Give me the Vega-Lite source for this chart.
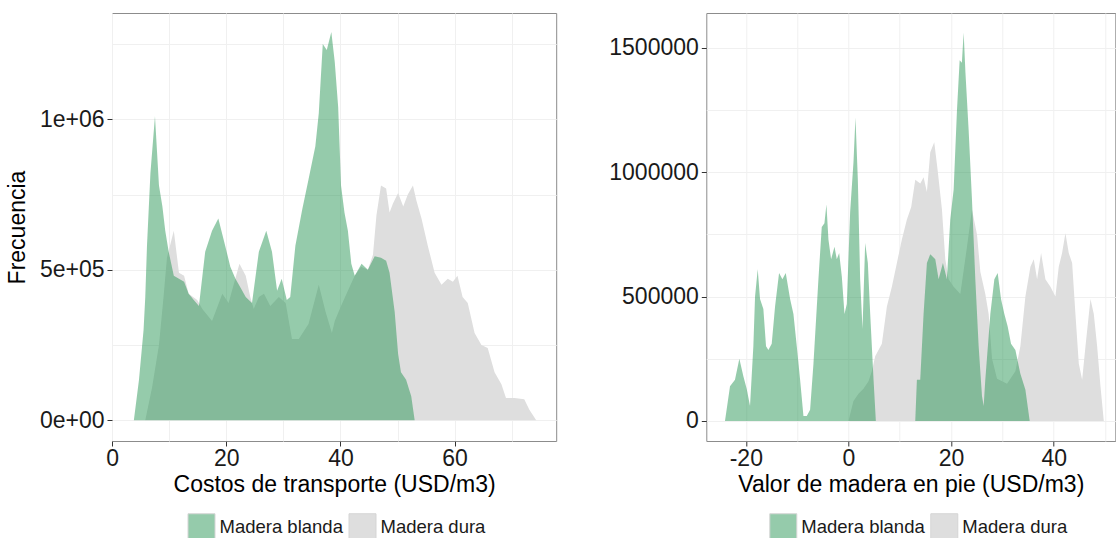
{
  "$schema": "https://vega.github.io/schema/vega-lite/v6.json",
  "padding": {"left": 5, "top": 12, "right": 0, "bottom": 0},
  "bounds": "flush",
  "spacing": 149.3,
  "background": "white",
  "config": {
    "font": "Liberation Sans",
    "view": {"stroke": "#8c8c8c", "strokeWidth": 1},
    "axis": {"labelFontSize": 23, "titleFontSize": 23, "labelColor": "#1a1a1a", "titleColor": "#000000", "titleFontWeight": "normal", "tickColor": "#333333", "tickSize": 5, "domain": false, "gridColor": "#F0F0F0", "labelPadding": 3, "labelFlush": false, "labelOverlap": false},
    "axisX": {"labelPadding": 1},
    "legend": {"orient": "none", "direction": "horizontal", "title": null, "symbolType": "square", "symbolSize": 729, "labelFontSize": 18.5, "labelColor": "#1a1a1a", "symbolStrokeColor": "#D5D5D5", "symbolStrokeWidth": 1, "columnPadding": 3, "labelOffset": 4}
  },
  "data": {"values": [
    {"p":"T","t":"Madera blanda","x":3.8,"y":0},{"p":"T","t":"Madera blanda","x":4.7,"y":135000},{"p":"T","t":"Madera blanda","x":5.5,"y":300000},{"p":"T","t":"Madera blanda","x":5.8,"y":410000},{"p":"T","t":"Madera blanda","x":6.1,"y":580000},{"p":"T","t":"Madera blanda","x":6.7,"y":820000},{"p":"T","t":"Madera blanda","x":7.5,"y":1010000},{"p":"T","t":"Madera blanda","x":8.2,"y":780000},{"p":"T","t":"Madera blanda","x":8.8,"y":710000},{"p":"T","t":"Madera blanda","x":9.3,"y":630000},{"p":"T","t":"Madera blanda","x":9.9,"y":560000},{"p":"T","t":"Madera blanda","x":10.8,"y":480000},{"p":"T","t":"Madera blanda","x":11.7,"y":470000},{"p":"T","t":"Madera blanda","x":12.6,"y":460000},{"p":"T","t":"Madera blanda","x":13.4,"y":420000},{"p":"T","t":"Madera blanda","x":14.3,"y":400000},{"p":"T","t":"Madera blanda","x":15.2,"y":380000},{"p":"T","t":"Madera blanda","x":16.3,"y":560000},{"p":"T","t":"Madera blanda","x":17.5,"y":630000},{"p":"T","t":"Madera blanda","x":18.6,"y":670000},{"p":"T","t":"Madera blanda","x":19.8,"y":580000},{"p":"T","t":"Madera blanda","x":20.7,"y":510000},{"p":"T","t":"Madera blanda","x":21.6,"y":470000},{"p":"T","t":"Madera blanda","x":22.5,"y":440000},{"p":"T","t":"Madera blanda","x":23.4,"y":410000},{"p":"T","t":"Madera blanda","x":24.5,"y":390000},{"p":"T","t":"Madera blanda","x":25.7,"y":560000},{"p":"T","t":"Madera blanda","x":27.0,"y":630000},{"p":"T","t":"Madera blanda","x":28.0,"y":560000},{"p":"T","t":"Madera blanda","x":28.9,"y":430000},{"p":"T","t":"Madera blanda","x":29.7,"y":470000},{"p":"T","t":"Madera blanda","x":30.6,"y":400000},{"p":"T","t":"Madera blanda","x":31.2,"y":410000},{"p":"T","t":"Madera blanda","x":32.1,"y":580000},{"p":"T","t":"Madera blanda","x":33.3,"y":700000},{"p":"T","t":"Madera blanda","x":34.4,"y":800000},{"p":"T","t":"Madera blanda","x":35.6,"y":910000},{"p":"T","t":"Madera blanda","x":36.2,"y":1020000},{"p":"T","t":"Madera blanda","x":36.9,"y":1250000},{"p":"T","t":"Madera blanda","x":37.6,"y":1230000},{"p":"T","t":"Madera blanda","x":38.4,"y":1290000},{"p":"T","t":"Madera blanda","x":39.0,"y":1190000},{"p":"T","t":"Madera blanda","x":39.6,"y":1040000},{"p":"T","t":"Madera blanda","x":40.1,"y":780000},{"p":"T","t":"Madera blanda","x":40.7,"y":690000},{"p":"T","t":"Madera blanda","x":41.3,"y":630000},{"p":"T","t":"Madera blanda","x":41.9,"y":520000},{"p":"T","t":"Madera blanda","x":42.5,"y":480000},{"p":"T","t":"Madera blanda","x":43.1,"y":500000},{"p":"T","t":"Madera blanda","x":43.7,"y":520000},{"p":"T","t":"Madera blanda","x":44.8,"y":500000},{"p":"T","t":"Madera blanda","x":46.0,"y":545000},{"p":"T","t":"Madera blanda","x":47.1,"y":540000},{"p":"T","t":"Madera blanda","x":48.0,"y":530000},{"p":"T","t":"Madera blanda","x":48.6,"y":490000},{"p":"T","t":"Madera blanda","x":49.5,"y":360000},{"p":"T","t":"Madera blanda","x":50.1,"y":220000},{"p":"T","t":"Madera blanda","x":50.6,"y":160000},{"p":"T","t":"Madera blanda","x":51.5,"y":135000},{"p":"T","t":"Madera blanda","x":52.4,"y":80000},{"p":"T","t":"Madera blanda","x":53.0,"y":0},
    {"p":"T","t":"Madera dura","x":5.8,"y":0},{"p":"T","t":"Madera dura","x":7.0,"y":110000},{"p":"T","t":"Madera dura","x":8.2,"y":250000},{"p":"T","t":"Madera dura","x":9.0,"y":410000},{"p":"T","t":"Madera dura","x":9.6,"y":540000},{"p":"T","t":"Madera dura","x":10.8,"y":630000},{"p":"T","t":"Madera dura","x":11.7,"y":490000},{"p":"T","t":"Madera dura","x":12.6,"y":480000},{"p":"T","t":"Madera dura","x":13.4,"y":420000},{"p":"T","t":"Madera dura","x":14.9,"y":400000},{"p":"T","t":"Madera dura","x":15.8,"y":370000},{"p":"T","t":"Madera dura","x":17.5,"y":330000},{"p":"T","t":"Madera dura","x":19.3,"y":420000},{"p":"T","t":"Madera dura","x":20.4,"y":390000},{"p":"T","t":"Madera dura","x":22.3,"y":520000},{"p":"T","t":"Madera dura","x":23.4,"y":480000},{"p":"T","t":"Madera dura","x":24.2,"y":410000},{"p":"T","t":"Madera dura","x":24.8,"y":370000},{"p":"T","t":"Madera dura","x":25.7,"y":410000},{"p":"T","t":"Madera dura","x":26.6,"y":420000},{"p":"T","t":"Madera dura","x":27.7,"y":380000},{"p":"T","t":"Madera dura","x":29.2,"y":410000},{"p":"T","t":"Madera dura","x":30.4,"y":390000},{"p":"T","t":"Madera dura","x":31.5,"y":270000},{"p":"T","t":"Madera dura","x":32.7,"y":270000},{"p":"T","t":"Madera dura","x":34.4,"y":320000},{"p":"T","t":"Madera dura","x":36.2,"y":450000},{"p":"T","t":"Madera dura","x":37.4,"y":360000},{"p":"T","t":"Madera dura","x":38.5,"y":290000},{"p":"T","t":"Madera dura","x":39.0,"y":330000},{"p":"T","t":"Madera dura","x":40.1,"y":380000},{"p":"T","t":"Madera dura","x":41.3,"y":430000},{"p":"T","t":"Madera dura","x":42.5,"y":480000},{"p":"T","t":"Madera dura","x":43.6,"y":510000},{"p":"T","t":"Madera dura","x":44.8,"y":500000},{"p":"T","t":"Madera dura","x":45.7,"y":550000},{"p":"T","t":"Madera dura","x":46.3,"y":680000},{"p":"T","t":"Madera dura","x":47.1,"y":780000},{"p":"T","t":"Madera dura","x":48.0,"y":770000},{"p":"T","t":"Madera dura","x":48.6,"y":690000},{"p":"T","t":"Madera dura","x":49.2,"y":720000},{"p":"T","t":"Madera dura","x":50.1,"y":755000},{"p":"T","t":"Madera dura","x":51.0,"y":710000},{"p":"T","t":"Madera dura","x":51.8,"y":750000},{"p":"T","t":"Madera dura","x":52.7,"y":780000},{"p":"T","t":"Madera dura","x":53.3,"y":730000},{"p":"T","t":"Madera dura","x":54.2,"y":670000},{"p":"T","t":"Madera dura","x":55.3,"y":580000},{"p":"T","t":"Madera dura","x":56.5,"y":490000},{"p":"T","t":"Madera dura","x":57.7,"y":450000},{"p":"T","t":"Madera dura","x":58.8,"y":470000},{"p":"T","t":"Madera dura","x":59.7,"y":460000},{"p":"T","t":"Madera dura","x":60.5,"y":480000},{"p":"T","t":"Madera dura","x":61.4,"y":410000},{"p":"T","t":"Madera dura","x":62.3,"y":390000},{"p":"T","t":"Madera dura","x":63.5,"y":290000},{"p":"T","t":"Madera dura","x":64.7,"y":250000},{"p":"T","t":"Madera dura","x":65.8,"y":240000},{"p":"T","t":"Madera dura","x":67.0,"y":160000},{"p":"T","t":"Madera dura","x":68.2,"y":120000},{"p":"T","t":"Madera dura","x":69.0,"y":74000},{"p":"T","t":"Madera dura","x":70.5,"y":74000},{"p":"T","t":"Madera dura","x":72.2,"y":70000},{"p":"T","t":"Madera dura","x":73.1,"y":35000},{"p":"T","t":"Madera dura","x":74.3,"y":0},
    {"p":"V","t":"Madera blanda","x":-24.06,"y":0},{"p":"V","t":"Madera blanda","x":-23.08,"y":140000},{"p":"V","t":"Madera blanda","x":-22.11,"y":166000},{"p":"V","t":"Madera blanda","x":-21.26,"y":250000},{"p":"V","t":"Madera blanda","x":-20.48,"y":180000},{"p":"V","t":"Madera blanda","x":-19.83,"y":130000},{"p":"V","t":"Madera blanda","x":-19.18,"y":60000},{"p":"V","t":"Madera blanda","x":-18.53,"y":300000},{"p":"V","t":"Madera blanda","x":-18.2,"y":500000},{"p":"V","t":"Madera blanda","x":-17.68,"y":610000},{"p":"V","t":"Madera blanda","x":-17.23,"y":490000},{"p":"V","t":"Madera blanda","x":-16.58,"y":450000},{"p":"V","t":"Madera blanda","x":-16.06,"y":300000},{"p":"V","t":"Madera blanda","x":-15.6,"y":285000},{"p":"V","t":"Madera blanda","x":-14.95,"y":310000},{"p":"V","t":"Madera blanda","x":-14.3,"y":460000},{"p":"V","t":"Madera blanda","x":-13.52,"y":595000},{"p":"V","t":"Madera blanda","x":-12.87,"y":570000},{"p":"V","t":"Madera blanda","x":-12.22,"y":595000},{"p":"V","t":"Madera blanda","x":-11.37,"y":490000},{"p":"V","t":"Madera blanda","x":-10.72,"y":430000},{"p":"V","t":"Madera blanda","x":-10.07,"y":300000},{"p":"V","t":"Madera blanda","x":-9.42,"y":166000},{"p":"V","t":"Madera blanda","x":-8.77,"y":20000},{"p":"V","t":"Madera blanda","x":-8.12,"y":20000},{"p":"V","t":"Madera blanda","x":-7.47,"y":45000},{"p":"V","t":"Madera blanda","x":-6.82,"y":230000},{"p":"V","t":"Madera blanda","x":-5.85,"y":570000},{"p":"V","t":"Madera blanda","x":-5.2,"y":780000},{"p":"V","t":"Madera blanda","x":-4.68,"y":795000},{"p":"V","t":"Madera blanda","x":-4.29,"y":870000},{"p":"V","t":"Madera blanda","x":-3.9,"y":730000},{"p":"V","t":"Madera blanda","x":-3.38,"y":650000},{"p":"V","t":"Madera blanda","x":-2.72,"y":700000},{"p":"V","t":"Madera blanda","x":-2.27,"y":650000},{"p":"V","t":"Madera blanda","x":-1.81,"y":675000},{"p":"V","t":"Madera blanda","x":-1.29,"y":580000},{"p":"V","t":"Madera blanda","x":-0.77,"y":430000},{"p":"V","t":"Madera blanda","x":-0.32,"y":470000},{"p":"V","t":"Madera blanda","x":0.33,"y":840000},{"p":"V","t":"Madera blanda","x":0.98,"y":1040000},{"p":"V","t":"Madera blanda","x":1.37,"y":1220000},{"p":"V","t":"Madera blanda","x":1.83,"y":970000},{"p":"V","t":"Madera blanda","x":2.28,"y":570000},{"p":"V","t":"Madera blanda","x":2.74,"y":370000},{"p":"V","t":"Madera blanda","x":3.26,"y":715000},{"p":"V","t":"Madera blanda","x":3.78,"y":635000},{"p":"V","t":"Madera blanda","x":4.24,"y":430000},{"p":"V","t":"Madera blanda","x":4.89,"y":166000},{"p":"V","t":"Madera blanda","x":5.34,"y":0},
    {"p":"V","t":"Madera blanda","x":13.02,"y":0},{"p":"V","t":"Madera blanda","x":13.34,"y":166000},{"p":"V","t":"Madera blanda","x":13.99,"y":166000},{"p":"V","t":"Madera blanda","x":14.64,"y":430000},{"p":"V","t":"Madera blanda","x":15.29,"y":635000},{"p":"V","t":"Madera blanda","x":15.94,"y":670000},{"p":"V","t":"Madera blanda","x":16.92,"y":650000},{"p":"V","t":"Madera blanda","x":17.57,"y":570000},{"p":"V","t":"Madera blanda","x":18.41,"y":635000},{"p":"V","t":"Madera blanda","x":19.19,"y":570000},{"p":"V","t":"Madera blanda","x":19.84,"y":810000},{"p":"V","t":"Madera blanda","x":20.5,"y":930000},{"p":"V","t":"Madera blanda","x":21.15,"y":1250000},{"p":"V","t":"Madera blanda","x":21.67,"y":1450000},{"p":"V","t":"Madera blanda","x":22.1,"y":1440000},{"p":"V","t":"Madera blanda","x":22.45,"y":1560000},{"p":"V","t":"Madera blanda","x":22.8,"y":1400000},{"p":"V","t":"Madera blanda","x":23.42,"y":1170000},{"p":"V","t":"Madera blanda","x":24.07,"y":890000},{"p":"V","t":"Madera blanda","x":24.72,"y":570000},{"p":"V","t":"Madera blanda","x":25.37,"y":300000},{"p":"V","t":"Madera blanda","x":26.02,"y":100000},{"p":"V","t":"Madera blanda","x":26.35,"y":60000},{"p":"V","t":"Madera blanda","x":26.67,"y":166000},{"p":"V","t":"Madera blanda","x":27.65,"y":430000},{"p":"V","t":"Madera blanda","x":28.43,"y":570000},{"p":"V","t":"Madera blanda","x":29.08,"y":595000},{"p":"V","t":"Madera blanda","x":29.73,"y":490000},{"p":"V","t":"Madera blanda","x":30.38,"y":430000},{"p":"V","t":"Madera blanda","x":31.03,"y":380000},{"p":"V","t":"Madera blanda","x":31.68,"y":310000},{"p":"V","t":"Madera blanda","x":32.53,"y":285000},{"p":"V","t":"Madera blanda","x":33.5,"y":190000},{"p":"V","t":"Madera blanda","x":34.48,"y":126000},{"p":"V","t":"Madera blanda","x":35.32,"y":0},
    {"p":"V","t":"Madera dura","x":0.0,"y":0},{"p":"V","t":"Madera dura","x":0.98,"y":80000},{"p":"V","t":"Madera dura","x":1.96,"y":110000},{"p":"V","t":"Madera dura","x":2.93,"y":130000},{"p":"V","t":"Madera dura","x":3.91,"y":160000},{"p":"V","t":"Madera dura","x":4.56,"y":200000},{"p":"V","t":"Madera dura","x":5.21,"y":260000},{"p":"V","t":"Madera dura","x":6.51,"y":310000},{"p":"V","t":"Madera dura","x":7.49,"y":460000},{"p":"V","t":"Madera dura","x":8.46,"y":540000},{"p":"V","t":"Madera dura","x":9.44,"y":635000},{"p":"V","t":"Madera dura","x":10.41,"y":730000},{"p":"V","t":"Madera dura","x":11.39,"y":810000},{"p":"V","t":"Madera dura","x":12.23,"y":860000},{"p":"V","t":"Madera dura","x":13.02,"y":970000},{"p":"V","t":"Madera dura","x":14.0,"y":955000},{"p":"V","t":"Madera dura","x":14.64,"y":980000},{"p":"V","t":"Madera dura","x":15.29,"y":920000},{"p":"V","t":"Madera dura","x":15.94,"y":1080000},{"p":"V","t":"Madera dura","x":16.72,"y":1120000},{"p":"V","t":"Madera dura","x":17.37,"y":1010000},{"p":"V","t":"Madera dura","x":18.22,"y":850000},{"p":"V","t":"Madera dura","x":18.87,"y":650000},{"p":"V","t":"Madera dura","x":19.52,"y":570000},{"p":"V","t":"Madera dura","x":20.5,"y":540000},{"p":"V","t":"Madera dura","x":21.8,"y":510000},{"p":"V","t":"Madera dura","x":23.1,"y":700000},{"p":"V","t":"Madera dura","x":24.07,"y":850000},{"p":"V","t":"Madera dura","x":25.05,"y":750000},{"p":"V","t":"Madera dura","x":25.7,"y":600000},{"p":"V","t":"Madera dura","x":26.67,"y":510000},{"p":"V","t":"Madera dura","x":27.32,"y":430000},{"p":"V","t":"Madera dura","x":27.98,"y":250000},{"p":"V","t":"Madera dura","x":28.95,"y":170000},{"p":"V","t":"Madera dura","x":30.9,"y":150000},{"p":"V","t":"Madera dura","x":32.53,"y":200000},{"p":"V","t":"Madera dura","x":33.5,"y":300000},{"p":"V","t":"Madera dura","x":34.48,"y":500000},{"p":"V","t":"Madera dura","x":35.46,"y":620000},{"p":"V","t":"Madera dura","x":36.11,"y":650000},{"p":"V","t":"Madera dura","x":36.76,"y":570000},{"p":"V","t":"Madera dura","x":37.54,"y":675000},{"p":"V","t":"Madera dura","x":38.38,"y":570000},{"p":"V","t":"Madera dura","x":39.36,"y":540000},{"p":"V","t":"Madera dura","x":40.33,"y":500000},{"p":"V","t":"Madera dura","x":40.98,"y":620000},{"p":"V","t":"Madera dura","x":41.63,"y":675000},{"p":"V","t":"Madera dura","x":42.28,"y":755000},{"p":"V","t":"Madera dura","x":42.93,"y":675000},{"p":"V","t":"Madera dura","x":43.59,"y":635000},{"p":"V","t":"Madera dura","x":44.23,"y":430000},{"p":"V","t":"Madera dura","x":44.89,"y":230000},{"p":"V","t":"Madera dura","x":45.54,"y":166000},{"p":"V","t":"Madera dura","x":46.19,"y":300000},{"p":"V","t":"Madera dura","x":47.16,"y":490000},{"p":"V","t":"Madera dura","x":47.81,"y":430000},{"p":"V","t":"Madera dura","x":48.46,"y":300000},{"p":"V","t":"Madera dura","x":49.11,"y":140000},{"p":"V","t":"Madera dura","x":49.76,"y":0}
  ]},
  "resolve": {"scale": {"color": "independent"}, "legend": {"color": "independent"}},
  "hconcat": [
    {
      "width": 444.2,
      "height": 428,
      "transform": [{"filter": "datum.p === 'T'"}],
      "encoding": {
        "x": {"field": "x", "type": "quantitative", "title": "Costos de transporte (USD/m3)",
          "scale": {"domain": [-0.03, 77.8], "nice": false, "zero": false},
          "axis": {"values": [0, 10, 20, 30, 40, 50, 60, 70], "labelExpr": "datum.value % 20 === 0 ? '' + datum.value : ''", "tickOpacity": {"condition": {"test": "datum.value % 20 === 0", "value": 1}, "value": 0}, "titlePadding": 3}},
        "y": {"field": "y", "type": "quantitative", "title": "Frecuencia", "stack": null,
          "scale": {"domain": [-68765, 1353000], "nice": false, "zero": false},
          "axis": {"values": [0, 250000, 500000, 750000, 1000000, 1250000], "labelExpr": "datum.value === 0 ? '0e+00' : datum.value === 500000 ? '5e+05' : datum.value === 1000000 ? '1e+06' : ''", "tickOpacity": {"condition": {"test": "datum.value % 500000 === 0", "value": 1}, "value": 0}, "titlePadding": 10}},
        "y2": {"datum": 0},
        "color": {"field": "t", "type": "nominal", "scale": {"domain": ["Madera blanda", "Madera dura"], "range": ["rgba(34,147,79,0.48)", "#DEDEDE"]}, "legend": {"legendX": 75.5, "legendY": 500}}
      },
      "layer": [
        {"transform": [{"filter": "datum.t === 'Madera dura'"}], "mark": {"type": "area"}},
        {"transform": [{"filter": "datum.t === 'Madera blanda'"}], "mark": {"type": "area"}}
      ]
    },
    {
      "width": 409,
      "height": 428,
      "transform": [{"filter": "datum.p === 'V'"}],
      "encoding": {
        "x": {"field": "x", "type": "quantitative", "title": "Valor de madera en pie (USD/m3)",
          "scale": {"domain": [-27.7, 52.0], "nice": false, "zero": false},
          "axis": {"values": [-20, -10, 0, 10, 20, 30, 40, 50], "labelExpr": "datum.value % 20 === 0 ? '' + datum.value : ''", "tickOpacity": {"condition": {"test": "datum.value % 20 === 0", "value": 1}, "value": 0}, "titlePadding": 3}},
        "y": {"field": "y", "type": "quantitative", "title": null, "stack": null,
          "scale": {"domain": [-80386, 1639870], "nice": false, "zero": false},
          "axis": {"values": [0, 250000, 500000, 750000, 1000000, 1250000, 1500000], "labelExpr": "datum.value % 500000 === 0 ? '' + datum.value : ''", "tickOpacity": {"condition": {"test": "datum.value % 500000 === 0", "value": 1}, "value": 0}}},
        "y2": {"datum": 0},
        "color": {"field": "t", "type": "nominal", "scale": {"domain": ["Madera blanda", "Madera dura"], "range": ["rgba(34,147,79,0.48)", "#DEDEDE"]}, "legend": {"legendX": 63, "legendY": 500}}
      },
      "layer": [
        {"transform": [{"filter": "datum.t === 'Madera dura'"}], "mark": {"type": "area"}},
        {"transform": [{"filter": "datum.t === 'Madera blanda'"}], "mark": {"type": "area"}}
      ]
    }
  ]
}
